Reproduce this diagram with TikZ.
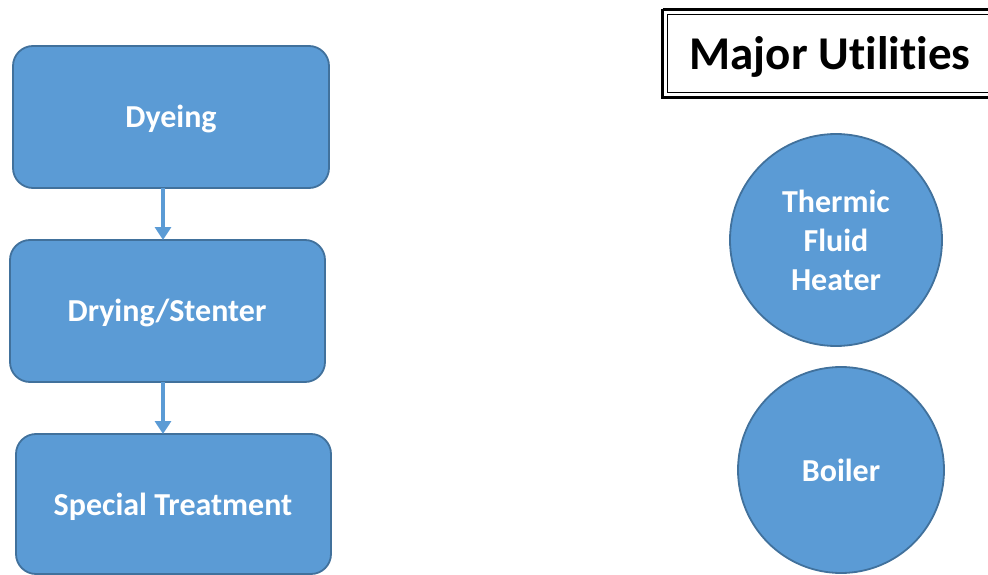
\documentclass[tikz,border=0pt]{standalone}
\usepackage{fontspec}
\setmainfont{Carlito}[Ligatures={NoCommon}]
\usetikzlibrary{arrows.meta}
\definecolor{bfill}{HTML}{5B9BD5}
\definecolor{bdraw}{HTML}{41719C}
\begin{document}
\begin{tikzpicture}[x=1pt,y=-1pt,
  procbox/.style={draw=bdraw,fill=bfill,line width=1.8pt,rounded corners=20pt},
  proctext/.style={font=\bfseries\fontsize{32}{38}\selectfont,text=white},
  util/.style={circle,draw=bdraw,fill=bfill,line width=1.8pt,inner sep=0pt,
    font=\bfseries\fontsize{32}{39}\selectfont,text=white,align=center},
  flow/.style={draw=bfill,line width=4pt,-{Triangle[length=13pt,width=16pt]}}]
\useasboundingbox (0,0) rectangle (988,575);
\draw[procbox] (13,46) rectangle (329,188);
\node[proctext] (dye) at (171,119) {Dyeing};
\coordinate (dyeb) at (163,188);
\draw[procbox] (10,240) rectangle (325,382);
\node[proctext] (dry) at (167,313) {Drying/Stenter};
\coordinate (dryt) at (163,240);
\coordinate (dryb) at (163,382);
\draw[procbox] (16,434) rectangle (331,574);
\node[proctext] (spec) at (173,507) {Special Treatment};
\coordinate (spect) at (163,434);
\draw[flow] (dyeb) -- (dryt);
\draw[flow] (dryb) -- (spect);
% title frame
\draw[line width=3pt] (662.5,9.5) -- (990,9.5);
\draw[line width=3pt] (662.5,9.5) -- (662.5,97.5) -- (990,97.5);
\draw[line width=1pt] (667.5,14.5) -- (990,14.5);
\draw[line width=1pt] (667.5,14.5) -- (667.5,92.5) -- (990,92.5);
\node[font=\bfseries\fontsize{47}{56}\selectfont] (title) at (830,57) {Major Utilities};
\node[util,minimum size=212pt] (tfh) at (836,240) {Thermic\\Fluid\\Heater};
\node[util,minimum size=206pt] (boil) at (841,470) {Boiler};
\end{tikzpicture}
\end{document}
